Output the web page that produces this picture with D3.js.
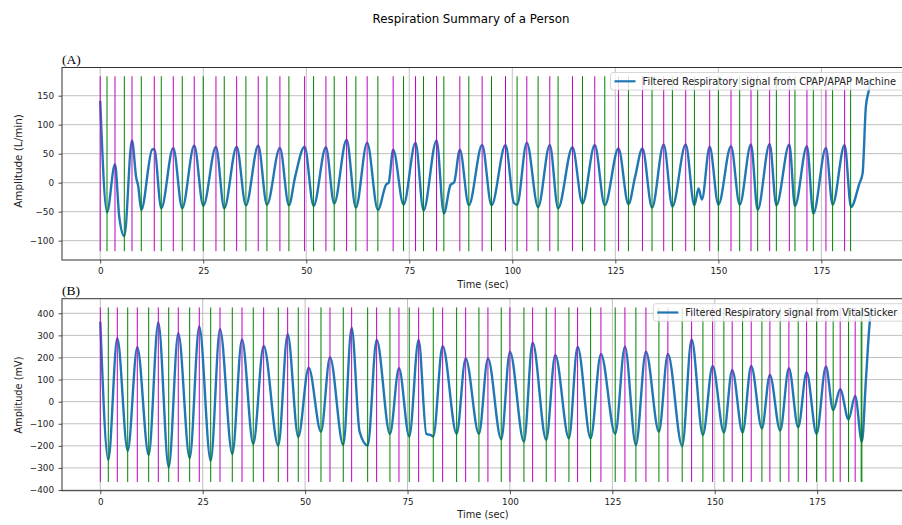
<!DOCTYPE html>
<html>
<head>
<meta charset="utf-8">
<script src="https://cdn.jsdelivr.net/npm/d3@7"></script>
<style>
  body { margin: 0; background: #fff; }
  svg { display: block; font-family: "DejaVu Sans", sans-serif; }
</style>
</head>
<body>
<svg id="chart" width="902" height="525"></svg>
<script>
// ---- Data -------------------------------------------------------------
// Shared x ticks (seconds)
const timeTicks = [0, 25, 50, 75, 100, 125, 150, 175];
const flowTicks = [-100, -50, 0, 50, 100, 150];
const voltTicks = [-400, -300, -200, -100, 0, 100, 200, 300, 400];

// Filtered CPAP/APAP flow signal: [time (s), amplitude (L/min)]
const cpapSignal = [
  [0, 141], [1.65, -51], [3.59, 32], [4.64, -60], [5.85, -92], [7.71, 73],
  [8.75, 8], [9.2, -5], [9.97, -47], [12.6, 57], [13.12, 58], [14.82, -44],
  [17.73, 60], [19.91, -44], [22.82, 64], [25.01, -40], [28.09, 62], [30.10, -44],
  [33.11, 62], [35.36, -39], [38.35, 64], [40.46, -38], [43.61, 60], [45.79, -39],
  [47.3, 10], [49.60, 62], [51.78, -40], [54.77, 61], [56.78, -36], [59.79, 74],
  [62.04, -43], [64.78, 69], [67.38, -47], [69.4, -3], [70.0, 0], [71.09, 57],
  [73.61, -38], [76.52, 69], [78.46, -48], [81.62, 73], [83.39, -53], [85.0, -4],
  [85.9, 1], [87.27, 57], [89.45, -39], [92.68, 65], [94.96, -39], [98.35, 65],
  [100.4, -35], [101.16, -38], [103.52, 69], [106.26, -42], [109.10, 65], [111.11, -44],
  [114.60, 61], [117.03, -36], [120.01, 65], [122.44, -39], [125.76, 59], [128.18, -37],
  [129.8, 10], [131.58, 59], [133.91, -43], [136.74, 66], [138.85, -41], [142.08, 66],
  [144.19, -39], [145.2, -10], [146.0, -29], [147.90, 62], [150.01, -38], [153.07, 63],
  [155.18, -38], [157.92, 66], [159.54, -47], [162.45, 67], [164.08, -39], [167.23, 66],
  [168.59, -40], [171.50, 63], [173.05, -53], [176.11, 60], [177.73, -38], [180.64, 65],
  [182.2, -42], [184.2, -2], [185.0, 16], [185.8, 131], [186.6, 162], [187.0, 180]
];
// Detected inhalation peaks (magenta) and exhalation troughs (green), seconds
const cpapPeaks = [0.0, 3.59, 7.71, 13.12, 17.73, 22.82, 28.09, 33.11, 38.35, 43.61, 49.60,
  54.77, 59.79, 64.78, 71.09, 76.52, 81.62, 87.27, 92.68, 98.35, 103.52, 109.10, 114.60,
  120.01, 125.76, 131.58, 136.74, 142.08, 147.90, 153.07, 157.92, 162.45, 167.23, 171.50,
  176.11, 180.64];
const cpapTroughs = [1.65, 5.85, 9.97, 14.82, 19.91, 25.01, 30.10, 35.36, 40.46, 45.79, 51.78,
  56.78, 62.04, 67.38, 73.61, 78.46, 83.39, 89.45, 94.96, 101.16, 106.26, 111.11, 117.03,
  122.44, 128.18, 133.91, 138.85, 144.19, 150.01, 155.18, 159.54, 164.08, 168.59, 173.05,
  177.73, 182.10];

// Filtered VitalSticker signal: [time (s), amplitude (mV)]
const stickerSignal = [
  [0, 362], [1.95, -264], [4.15, 287], [6.69, -222], [9.03, 246], [11.81, -241],
  [14.16, 359], [16.70, -297], [19.04, 310], [21.82, -256], [24.16, 340], [26.95, -268],
  [29.22, 328], [32.22, -237], [34.59, 282], [37.34, -191], [39.88, 252], [43.45, -199],
  [45.74, 305], [48.33, -160], [50.87, 154], [53.87, -136], [56.07, 201], [59.31, -196],
  [61.36, 335], [63.3, -136], [65.27, -199], [67.46, 279], [70.71, -146], [72.91, 151],
  [75.42, -158], [77.71, 279], [79.6, -146], [80.8, -152], [81.28, -158], [83.57, 252],
  [86.99, -146], [89.19, 196], [92.43, -146], [94.63, 196], [97.88, -170], [100.0, 226],
  [103.42, -181], [105.54, 267], [108.86, -173], [111.06, 211], [114.40, -166], [116.52, 249],
  [119.70, -166], [122.21, 216], [125.70, -146], [128.07, 249], [130.75, -196], [133.20, 226],
  [136.37, -136], [138.56, 216], [142.05, -201], [144.35, 282], [147.11, -151], [149.48, 162],
  [152.23, -140], [154.26, 144], [156.80, -140], [158.90, 162], [161.51, -121], [163.46, 121],
  [165.97, -131], [168.10, 151], [170.37, -116], [172.42, 133], [174.86, -146], [177.13, 159],
  [178.91, -38], [180.62, 56], [182.67, -80], [184.28, 26], [185.92, -181], [186.9, 98],
  [187.85, 362], [188.2, 420]
];
const stickerPeaks = [0.0, 4.15, 9.03, 14.16, 19.04, 24.16, 29.22, 34.59, 39.88, 45.74, 50.87,
  56.07, 61.36, 67.46, 72.91, 77.71, 83.57, 89.19, 94.63, 100.0, 105.54, 111.06, 116.52,
  122.21, 128.07, 133.20, 138.56, 144.35, 149.48, 154.26, 158.90, 163.46, 168.10, 172.42,
  177.13, 180.62, 184.28];
const stickerTroughs = [1.95, 6.69, 11.81, 16.70, 21.82, 26.95, 32.22, 37.34, 43.45, 48.33,
  53.87, 59.31, 65.27, 70.71, 75.42, 81.28, 86.99, 92.43, 97.88, 103.42, 108.86, 114.40,
  119.70, 125.70, 130.75, 136.37, 142.05, 147.11, 152.23, 156.80, 161.51, 165.97, 170.37,
  174.86, 178.91, 182.67, 185.75, 185.92];

// ---- Drawing ----------------------------------------------------------
const svg = d3.select("#chart");
svg.append("rect").attr("width", 902).attr("height", 525).attr("fill", "#fff");

const LEFT = 62, RIGHT = 904;
const BLUE = "#1f77b4", MAGENTA = "#bf00bf", GREEN = "#008000";
const SANS = "'DejaVu Sans', sans-serif";
const SERIF = "'Liberation Serif', 'Times New Roman', serif";

svg.append("text")
  .attr("x", 471).attr("y", 22.5)
  .attr("text-anchor", "middle")
  .style("font-family", SANS)
  .style("font-size", "11.8px")
  .attr("fill", "#000")
  .text("Respiration Summary of a Person");

function drawPanel(cfg) {
  const x = d3.scaleLinear().domain(cfg.xDomain).range([LEFT, RIGHT]);
  const y = d3.scaleLinear().domain(cfg.yDomain).range([cfg.bottom, cfg.top]);
  const g = svg.append("g");

  const clipId = "clip-" + cfg.id;
  svg.append("clipPath").attr("id", clipId)
    .append("rect")
    .attr("x", LEFT).attr("y", cfg.top)
    .attr("width", RIGHT - LEFT).attr("height", cfg.bottom - cfg.top);

  // grid
  const grid = g.append("g").attr("stroke", "#b0b0b0").attr("stroke-width", 0.8);
  grid.selectAll("line.gx").data(timeTicks).join("line")
    .attr("x1", d => x(d)).attr("x2", d => x(d))
    .attr("y1", cfg.top).attr("y2", cfg.bottom);
  grid.selectAll("line.gy").data(cfg.yTicks).join("line")
    .attr("x1", LEFT).attr("x2", RIGHT)
    .attr("y1", d => y(d)).attr("y2", d => y(d));

  const plot = g.append("g").attr("clip-path", `url(#${clipId})`);

  // signal
  const line = d3.line()
    .x(d => x(d[0])).y(d => y(d[1]))
    .curve(d3.curveMonotoneX);
  plot.append("path")
    .datum(cfg.signal)
    .attr("fill", "none")
    .attr("stroke", BLUE)
    .attr("stroke-width", 2.4)
    .attr("stroke-linejoin", "round")
    .attr("d", line);

  // peak / trough markers
  const [vLo, vHi] = cfg.vRange;
  plot.selectAll("line.pk").data(cfg.peaks).join("line")
    .attr("x1", d => x(d)).attr("x2", d => x(d))
    .attr("y1", y(vLo)).attr("y2", y(vHi))
    .attr("stroke", MAGENTA).attr("stroke-width", 1);
  plot.selectAll("line.tr").data(cfg.troughs).join("line")
    .attr("x1", d => x(d)).attr("x2", d => x(d))
    .attr("y1", y(vLo)).attr("y2", y(vHi))
    .attr("stroke", GREEN).attr("stroke-width", 1);

  // axes
  const xAxis = d3.axisBottom(x).tickValues(timeTicks).tickSize(3.5).tickPadding(4.5)
    .tickFormat(d3.format("d"));
  const xa = g.append("g").attr("transform", `translate(0,${cfg.bottom})`).call(xAxis);
  const yAxis = d3.axisLeft(y).tickValues(cfg.yTicks).tickSize(3.5).tickPadding(4.5);
  const ya = g.append("g").attr("transform", `translate(${LEFT},0)`).call(yAxis);
  [xa, ya].forEach(a => {
    a.select(".domain").remove();
    a.style("font-family", SANS).style("font-size", "8.8px");
    a.selectAll(".tick line").attr("stroke", "#222").attr("stroke-width", 0.8);
    a.selectAll(".tick text").attr("fill", "#222");
  });

  // frame
  g.append("rect")
    .attr("x", LEFT).attr("y", cfg.top)
    .attr("width", RIGHT - LEFT).attr("height", cfg.bottom - cfg.top)
    .attr("fill", "none").attr("stroke", "#333").attr("stroke-width", 1);

  // labels
  g.append("text")
    .attr("x", 483).attr("y", cfg.bottom + 27.5)
    .attr("text-anchor", "middle")
    .style("font-family", SANS).style("font-size", "9.8px").attr("fill", "#222")
    .text("Time (sec)");
  g.append("text")
    .attr("transform", `translate(21.5,${cfg.labelY}) rotate(-90)`)
    .attr("text-anchor", "middle")
    .style("font-family", SANS).style("font-size", cfg.labelSize + "px").attr("fill", "#222")
    .text(cfg.yLabel);
  g.append("text")
    .attr("x", LEFT).attr("y", cfg.top - 3.8)
    .style("font-family", SERIF)
    .style("font-size", "13.5px").attr("fill", "#000")
    .text(cfg.tag);

  // legend
  const lg = g.append("g");
  lg.append("rect")
    .attr("x", cfg.legendX).attr("y", cfg.top + 5)
    .attr("width", 320).attr("height", 17.5).attr("rx", 2.5)
    .attr("fill", "#fff").attr("fill-opacity", 0.8)
    .attr("stroke", "#cccccc").attr("stroke-width", 0.8);
  lg.append("line")
    .attr("x1", cfg.legendX + 4).attr("x2", cfg.legendX + 25)
    .attr("y1", cfg.top + 13.8).attr("y2", cfg.top + 13.8)
    .attr("stroke", BLUE).attr("stroke-width", 2.2);
  lg.append("text")
    .attr("x", cfg.legendX + 32).attr("y", cfg.top + 17.3)
    .style("font-family", SANS).style("font-size", "9.8px").attr("fill", "#222")
    .text(cfg.legend);
}

drawPanel({
  id: "a", tag: "(A)",
  top: 67.5, bottom: 260,
  xDomain: [-9.27, 195.05], yDomain: [-133.3, 198.6],
  yTicks: flowTicks, vRange: [-118.2, 183.5],
  signal: cpapSignal, peaks: cpapPeaks, troughs: cpapTroughs,
  yLabel: "Amplitude (L/min)", labelY: 161, labelSize: 10.4,
  legendX: 610.5,
  legend: "Filtered Respiratory signal from CPAP/APAP Machine"
});

drawPanel({
  id: "b", tag: "(B)",
  top: 298.7, bottom: 490.7,
  xDomain: [-9.35, 196.2], yDomain: [-403, 466],
  yTicks: voltTicks, vRange: [-363.5, 426.5],
  signal: stickerSignal, peaks: stickerPeaks, troughs: stickerTroughs,
  yLabel: "Amplitude (mV)", labelY: 395, labelSize: 9.8,
  legendX: 653.3,
  legend: "Filtered Respiratory signal from VitalSticker"
});
</script>
</body>
</html>
